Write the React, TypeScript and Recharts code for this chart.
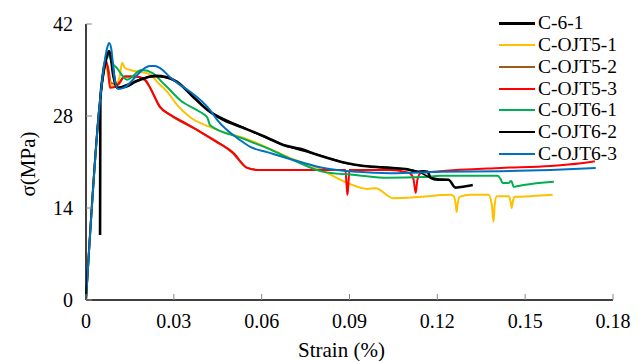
import { LineChart, Line, XAxis, YAxis } from 'recharts';

// strain (%) vs stress (MPa)
const c61 = [
  [0.0048, 9.9], [0.0049, 30.4], [0.0058, 34.2], [0.0068, 36.5], [0.0079, 37.9], [0.0089, 36.2],
  [0.0099, 33.2], [0.0106, 32.3], [0.0133, 32.4], [0.0168, 33.2], [0.0202, 33.8], [0.0236, 34.1],
  [0.0277, 33.9], [0.0311, 33.2], [0.0366, 30.9], [0.0424, 28.6], [0.0469, 27.4], [0.0537, 26.2],
  [0.0619, 24.7], [0.0674, 23.6], [0.0732, 23.0], [0.079, 22.1], [0.0893, 20.8], [0.0948, 20.4],
  [0.104, 20.1], [0.1098, 19.9], [0.1132, 19.5], [0.1153, 19.6], [0.1167, 19.5], [0.1177, 18.6],
  [0.1201, 18.3], [0.1238, 18.3], [0.1262, 17.1], [0.128, 17.2], [0.1321, 17.5],
];
const ojt51 = [
  [0, 0], [0.0048, 30.4], [0.0062, 34.7], [0.0068, 35.6], [0.0075, 34.5], [0.0086, 32.6],
  [0.0099, 32.6], [0.0109, 33.2], [0.0116, 34.2], [0.0123, 36.1], [0.0133, 35.3], [0.0151, 35.0],
  [0.0185, 34.7], [0.0209, 34.5], [0.0226, 34.1], [0.0243, 33.2], [0.0277, 31.7], [0.0311, 29.7],
  [0.0356, 27.8], [0.0431, 26.2], [0.0561, 24.3], [0.0698, 21.6], [0.079, 20.1], [0.0893, 17.8],
  [0.0961, 16.9], [0.0989, 17.0], [0.105, 15.5], [0.1143, 15.7], [0.1245, 16.0], [0.1256, 15.8],
  [0.1263, 14.5], [0.1266, 13.4], [0.1269, 14.5], [0.1276, 15.7], [0.1314, 16.0], [0.1375, 16.0],
  [0.1386, 14.5], [0.1392, 11.9], [0.1396, 14.5], [0.1403, 15.8], [0.1444, 15.8], [0.1451, 14.8],
  [0.1454, 14.0], [0.1458, 15.0], [0.1464, 15.7], [0.1519, 15.8], [0.1594, 16.0],
];
const ojt52 = [
  [0, 0], [0.0048, 30.4], [0.0065, 36.3], [0.0075, 35.5], [0.0086, 33.0], [0.011, 32.8],
  [0.013, 34.0], [0.017, 34.0], [0.02, 33.5], [0.022, 32.2], [0.025, 29.5], [0.029, 28.1],
  [0.039, 25.6], [0.05, 22.4], [0.055, 20.1], [0.0585, 19.8],
];
const ojt53 = [
  [0, 0], [0.0048, 30.4], [0.0062, 35.3], [0.0068, 36.5], [0.0075, 35.0], [0.0082, 32.3],
  [0.0099, 32.4], [0.0116, 33.2], [0.0133, 34.0], [0.0168, 34.0], [0.0202, 33.5], [0.0219, 32.3],
  [0.0253, 29.4], [0.0287, 28.2], [0.0332, 27.1], [0.039, 25.6], [0.0448, 24.0], [0.0503, 22.4],
  [0.0551, 20.1], [0.0585, 19.8], [0.0732, 19.8], [0.0886, 19.8], [0.089, 17.5], [0.0893, 16.0],
  [0.0896, 17.5], [0.09, 19.8], [0.104, 19.8], [0.1091, 19.5], [0.1109, 19.2], [0.1119, 18.3],
  [0.1126, 16.3], [0.1132, 18.3], [0.1143, 19.3], [0.1211, 19.6], [0.1416, 20.1], [0.1587, 20.4],
  [0.169, 20.8], [0.1738, 21.1],
];
const ojt61 = [
  [0, 0], [0.0048, 30.4], [0.0062, 35.6], [0.0072, 37.7], [0.0082, 36.8], [0.0089, 36.1],
  [0.0106, 35.3], [0.0123, 34.2], [0.014, 33.5], [0.0161, 34.1], [0.0178, 34.8], [0.0192, 35.0],
  [0.0229, 34.5], [0.0263, 33.0], [0.0277, 32.4], [0.0322, 30.4], [0.039, 28.6], [0.0414, 27.8],
  [0.0424, 26.6], [0.0527, 24.7], [0.0619, 23.1], [0.0732, 20.8], [0.0811, 19.5], [0.0927, 19.0],
  [0.103, 18.6], [0.1153, 18.7], [0.1211, 18.9], [0.1406, 18.9], [0.1416, 18.4], [0.1423, 17.8],
  [0.1444, 17.8], [0.1451, 18.1], [0.1454, 18.0], [0.1461, 17.2], [0.1471, 17.3], [0.1495, 17.5],
  [0.1598, 18.0],
];
const ojt62 = [
  [0, 0], [0.0048, 30.4], [0.0065, 35.8], [0.0079, 37.7], [0.0092, 34.0], [0.0106, 32.3],
  [0.014, 32.8], [0.02, 33.8], [0.024, 34.0], [0.03, 33.4], [0.042, 28.8], [0.054, 26.2],
  [0.068, 23.5], [0.08, 22.0], [0.09, 20.7], [0.104, 20.1], [0.113, 19.6], [0.118, 18.6], [0.124, 18.3],
];
const ojt63 = [
  [0, 0], [0.0048, 30.4], [0.0062, 35.8], [0.0072, 38.3], [0.0079, 39.1], [0.0086, 38.3],
  [0.0096, 34.2], [0.0109, 32.1], [0.0133, 32.4], [0.0168, 33.9], [0.0192, 35.0], [0.0219, 35.6],
  [0.0236, 35.6], [0.0253, 35.3], [0.0287, 33.9], [0.0322, 32.7], [0.0356, 31.7], [0.0424, 28.9],
  [0.0448, 27.4], [0.0527, 24.3], [0.0561, 23.3], [0.0619, 22.5], [0.0732, 21.0], [0.0811, 20.1],
  [0.0927, 19.5], [0.104, 19.3], [0.1211, 19.5], [0.1416, 19.6], [0.1587, 19.8], [0.1741, 20.1],
];

const xTicks = [0, 0.03, 0.06, 0.09, 0.12, 0.15, 0.18];
const xTickLabels = ['0', '0.03', '0.06', '0.09', '0.12', '0.15', '0.18'];
const yTicks = [0, 14, 28, 42];

const series = [
  { name: 'C-6-1', data: c61, color: '#000000', width: 2.6 },
  { name: 'C-OJT5-1', data: ojt51, color: '#FFC000', width: 2 },
  { name: 'C-OJT5-2', data: ojt52, color: '#9E5A1C', width: 2 },
  { name: 'C-OJT5-3', data: ojt53, color: '#FF0000', width: 2 },
  { name: 'C-OJT6-1', data: ojt61, color: '#00B050', width: 2 },
  { name: 'C-OJT6-2', data: ojt62, color: '#000000', width: 1.6 },
  { name: 'C-OJT6-3', data: ojt63, color: '#0070C0', width: 2 },
];
const drawOrder = ['C-OJT5-2', 'C-OJT5-1', 'C-OJT5-3', 'C-OJT6-1', 'C-OJT6-2', 'C-6-1', 'C-OJT6-3'];

const FONT = 'Liberation Serif, DejaVu Serif, serif';

const toPoints = (arr: number[][]) => arr.map(([x, y]) => ({ x, y }));

const XTick = ({ x, y, payload }: any) => {
  const i = xTicks.indexOf(payload.value);
  return (
    <g>
      <line x1={x} y1={y} x2={x} y2={y - 6} stroke="#888" strokeWidth={1} />
      <text x={x} y={y + 28} textAnchor="middle" fontSize={20} style={{ fontFamily: FONT }} fill="#000">
        {i >= 0 ? xTickLabels[i] : payload.value}
      </text>
    </g>
  );
};

const YTick = ({ x, y, payload }: any) => (
  <g>
    <line x1={x} y1={y} x2={x + 6} y2={y} stroke="#888" strokeWidth={1} />
    <text x={x - 13} y={y + 7} textAnchor="end" fontSize={20} style={{ fontFamily: FONT }} fill="#000">
      {payload.value}
    </text>
  </g>
);

const XTitle = ({ viewBox }: any) => (
  <text x={viewBox.x + viewBox.width / 2 - 8} y={349} textAnchor="middle" fontSize={21}
    style={{ fontFamily: FONT }} fill="#000">
    Strain (%)
  </text>
);

const YTitle = () => (
  <text x={20} y={156} transform="rotate(-90, 20, 156)" textAnchor="middle" dominantBaseline="central"
    fontSize={21} style={{ fontFamily: FONT }} fill="#000">
    σ(MPa)
  </text>
);

const App = () => {
  return (
    <div style={{ position: 'relative', width: 636, height: 353, fontFamily: FONT }}>
      <LineChart width={636} height={353} margin={{ top: 16, right: 31, bottom: 0, left: 0 }}>
        <XAxis
          type="number"
          dataKey="x"
          domain={[0, 0.18]}
          ticks={xTicks}
          tickSize={0}
          tickMargin={0}
          tickLine={false}
          axisLine={{ stroke: '#000', strokeWidth: 1.5 }}
          tick={<XTick />}
          height={61}
          label={<XTitle />}
        />
        <YAxis
          type="number"
          dataKey="y"
          domain={[0, 42]}
          ticks={yTicks}
          tickSize={0}
          tickMargin={0}
          tickLine={false}
          axisLine={{ stroke: '#000', strokeWidth: 1.5 }}
          tick={<YTick />}
          width={78}
          label={<YTitle />}
        />
        {drawOrder.map((n) => {
          const s = series.find((d) => d.name === n)!;
          return (
            <Line
              key={s.name}
              name={s.name}
              data={toPoints(s.data)}
              dataKey="y"
              type="monotone"
              stroke={s.color}
              strokeWidth={s.width}
              dot={false}
              activeDot={false}
              isAnimationActive={false}
            />
          );
        })}
      </LineChart>
      <div style={{ position: 'absolute', left: 491, top: 4.25 }}>
        {series.map((s) => (
          <div key={s.name} style={{ display: 'flex', alignItems: 'center', height: 21.8 }}>
            <span style={{ display: 'inline-block', width: 36, height: s.width > 2.2 ? 3 : 2, background: s.color }} />
            <span style={{ marginLeft: 3, fontSize: 19.5, lineHeight: '21.8px', color: '#000', whiteSpace: 'nowrap' }}>
              {s.name}
            </span>
          </div>
        ))}
      </div>
    </div>
  );
};

export default App;
